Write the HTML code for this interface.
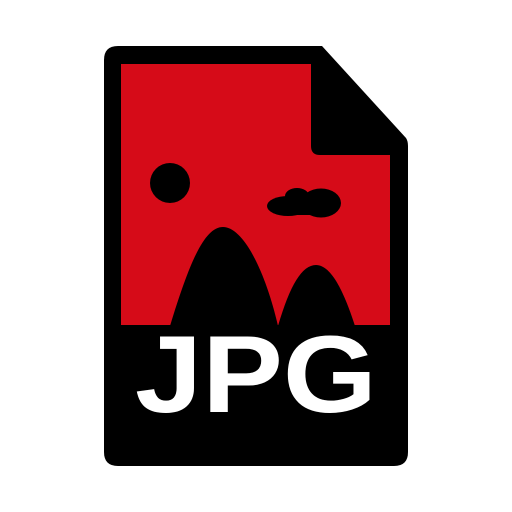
<!DOCTYPE html>
<html><head><meta charset="utf-8"><style>html,body{margin:0;padding:0;background:#fff;width:512px;height:512px;overflow:hidden}</style></head>
<body>
<svg width="512" height="512" viewBox="0 0 512 512">
<path d="M118,46 L322,46 L406,138 Q408,141 408,146 L408,452 Q408,466 394,466 L118,466 Q104,466 104,452 L104,60 Q104,46 118,46 Z" fill="#000"/>
<path d="M121,64 L311,64 L311,146 Q311,155 320,155 L390,155 L390,325 L121,325 Z" fill="#d60b18"/>
<circle cx="170" cy="183" r="20" fill="#000"/>
<g fill="#000">
<ellipse cx="288" cy="206" rx="21" ry="10"/>
<ellipse cx="321" cy="203" rx="20" ry="14.5"/>
<ellipse cx="297" cy="196" rx="12" ry="8"/>
<rect x="290" y="198" width="20" height="17"/>
</g>
<path d="M170,326 C190,260 205,227 223,227 C243,227 265,270 278,326 Z" fill="#000"/>
<path d="M278,326 C290,285 302,265 316,265 C332,265 345,295 355,326 Z" fill="#000"/>
<text x="256" y="412" text-anchor="middle" font-family="'Liberation Sans',sans-serif" font-weight="bold" font-size="100" fill="#fff" textLength="242" lengthAdjust="spacingAndGlyphs" transform="translate(0,412) scale(1,1.1) translate(0,-412)">JPG</text>
</svg>
</body></html>
